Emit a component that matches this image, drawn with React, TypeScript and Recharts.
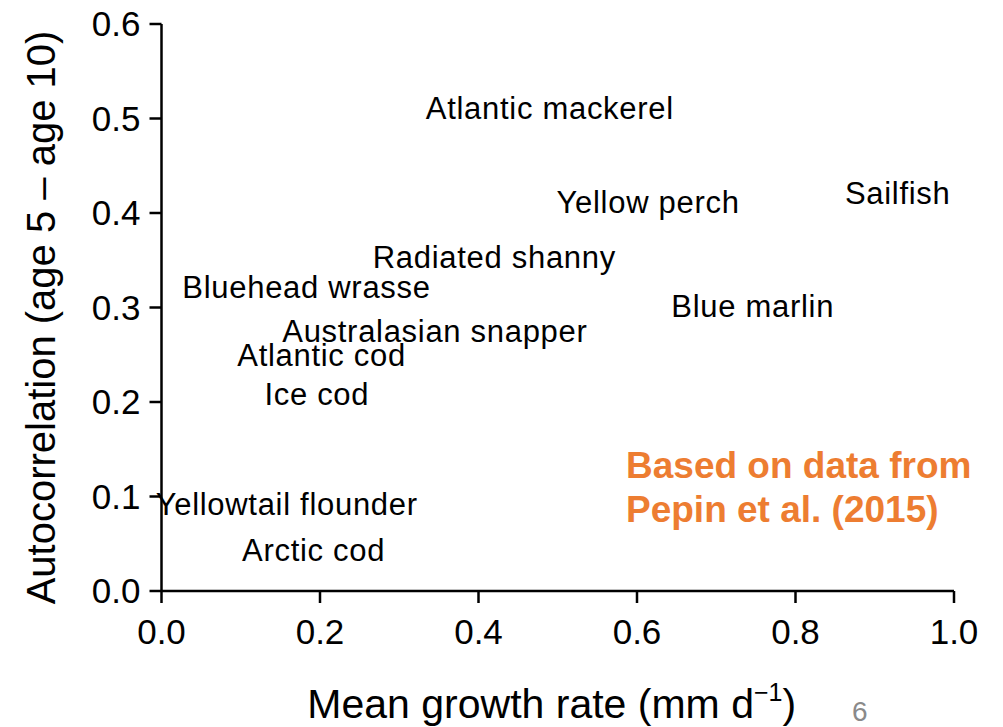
import React from "react";
import { ScatterChart, Scatter, XAxis, YAxis, Label } from "recharts";

const speciesNames = [
  "Atlantic mackerel",
  "Yellow perch",
  "Sailfish",
  "Radiated shanny",
  "Bluehead wrasse",
  "Blue marlin",
  "Australasian snapper",
  "Atlantic cod",
  "Ice cod",
  "Yellowtail flounder",
  "Arctic cod",
];
const growthRates = [0.49, 0.614, 0.929, 0.42, 0.183, 0.746, 0.345, 0.202, 0.196, 0.158, 0.192];
const autocorrelations = [0.511, 0.412, 0.421, 0.354, 0.322, 0.302, 0.275, 0.25, 0.209, 0.092, 0.044];
const xTicks = [0, 0.2, 0.4, 0.6, 0.8, 1.0];
const yTicks = [0, 0.1, 0.2, 0.3, 0.4, 0.5, 0.6];

const data = speciesNames.map((name, i) => ({
  name,
  x: growthRates[i],
  y: autocorrelations[i],
}));

const FONT = "Arial, 'Liberation Sans', Helvetica, sans-serif";

const SpeciesLabel = (props: any) => {
  const { cx, cy, payload } = props;
  return (
    <text
      x={cx}
      y={cy}
      dy="0.36em"
      textAnchor="middle"
      fontFamily={FONT}
      fontSize={31}
      letterSpacing={0.7}
      fill="#000"
    >
      {payload.name}
    </text>
  );
};

const XTitle = (props: any) => {
  const vb = props.viewBox || {};
  const cx = vb.x + vb.width / 2 - 6;
  const y = vb.y + 127;
  return (
    <text x={cx} y={y} textAnchor="middle" fontFamily={FONT} fontSize={41} fill="#000">
      Mean growth rate (mm d
      <tspan dy={-17} fontSize={25}>−1</tspan>
      <tspan dy={17}>)</tspan>
    </text>
  );
};

const YTitle = (props: any) => {
  const vb = props.viewBox || {};
  const x = 55;
  const y = vb.y + vb.height / 2 + 10;
  return (
    <text
      x={x}
      y={y}
      textAnchor="middle"
      fontFamily={FONT}
      fontSize={40}
      fill="#000"
      transform={`rotate(-90, ${x}, ${y})`}
    >
      Autocorrelation (age 5 – age 10)
    </text>
  );
};

export default function App() {
  return (
    <div style={{ position: "absolute", left: 0, top: 0, width: 1003, height: 727, background: "#fff" }}>
      <ScatterChart
        width={1003}
        height={727}
        margin={{ top: 24, right: 49, bottom: 0, left: 0 }}
      >
        <XAxis
          type="number"
          dataKey="x"
          domain={[0, 1]}
          ticks={xTicks}
          tickFormatter={(v: number) => v.toFixed(1)}
          height={136}
          tickSize={12}
          tickMargin={16}
          axisLine={{ stroke: "#000", strokeWidth: 2.5 }}
          tickLine={{ stroke: "#000", strokeWidth: 2.5 }}
          tick={{ fill: "#000", fontSize: 35, fontFamily: FONT }}
          interval={0}
        >
          <Label content={<XTitle />} />
        </XAxis>
        <YAxis
          type="number"
          dataKey="y"
          domain={[0, 0.6]}
          ticks={yTicks}
          tickFormatter={(v: number) => v.toFixed(1)}
          width={161.5}
          tickSize={12}
          tickMargin={9}
          axisLine={{ stroke: "#000", strokeWidth: 2.5 }}
          tickLine={{ stroke: "#000", strokeWidth: 2.5 }}
          tick={{ fill: "#000", fontSize: 35, fontFamily: FONT }}
          interval={0}
        >
          <Label content={<YTitle />} />
        </YAxis>
        <Scatter data={data} isAnimationActive={false} shape={<SpeciesLabel />} />
      </ScatterChart>
      <div
        style={{
          position: "absolute",
          left: 626,
          top: 444,
          fontFamily: FONT,
          fontWeight: "bold",
          fontSize: 37,
          lineHeight: "44px",
          color: "#ED7D31",
          whiteSpace: "nowrap",
        }}
      >
        Based on data from
        <br />
        Pepin et al. (2015)
      </div>
      <div
        style={{
          position: "absolute",
          left: 852,
          top: 697,
          fontFamily: FONT,
          fontSize: 28,
          lineHeight: "30px",
          color: "#8a8a8a",
        }}
      >
        6
      </div>
    </div>
  );
}
